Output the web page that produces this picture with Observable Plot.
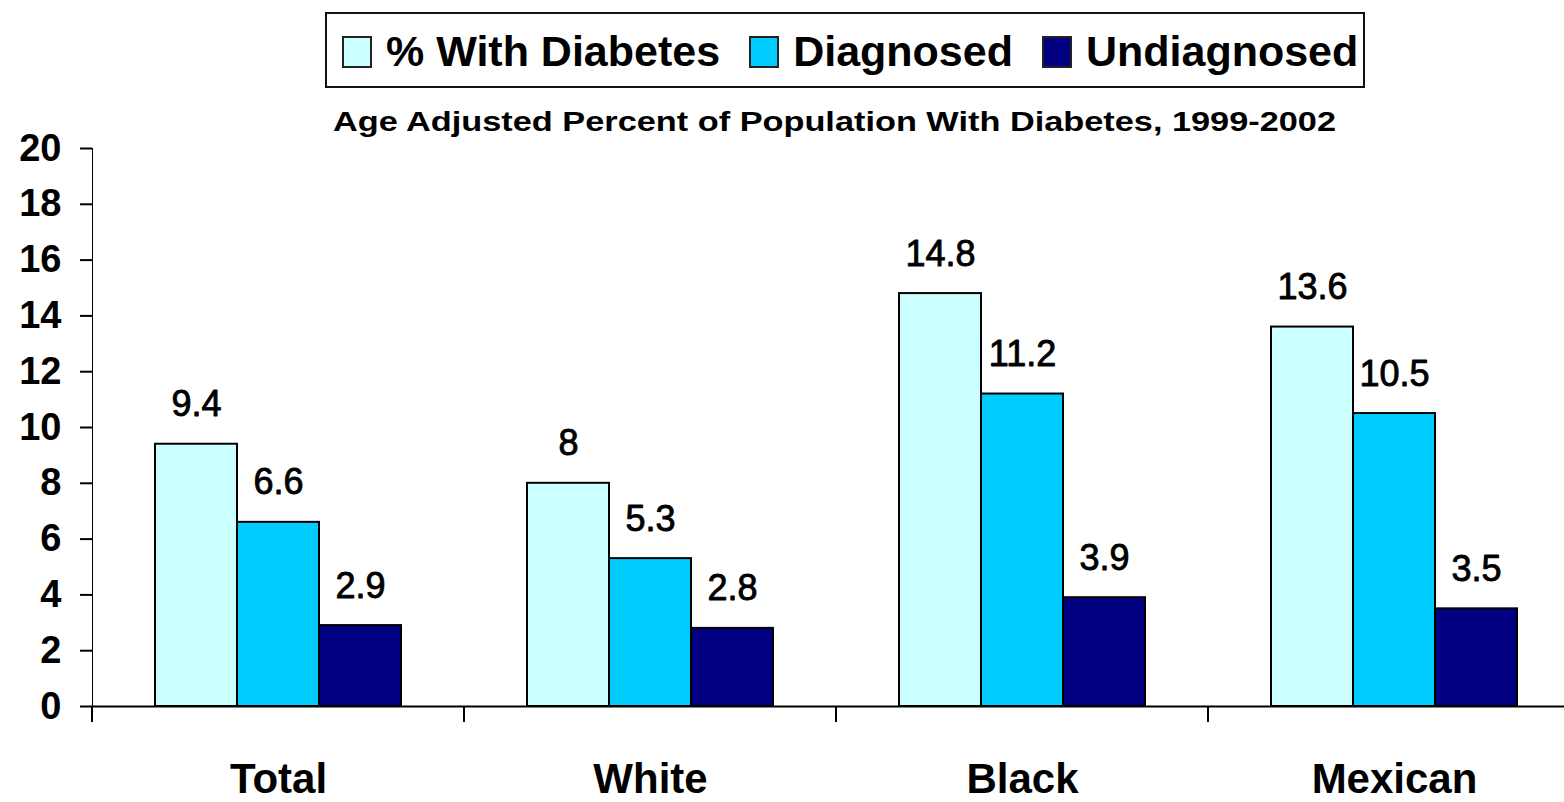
<!DOCTYPE html>
<html>
<head>
<meta charset="utf-8">
<script src="https://cdn.jsdelivr.net/npm/d3@7"></script>
<script src="https://cdn.jsdelivr.net/npm/@observablehq/plot@0.6"></script>
<style>
  html, body { margin: 0; padding: 0; background: #fff; overflow: hidden; }
  #wrap { position: relative; width: 1564px; height: 802px; overflow: hidden; background: #fff; }
  #chart { position: absolute; left: 0; top: 0; width: 1580px; }
  #chart svg { max-width: none !important; width: 1580px !important; height: 802px !important; }
  #legend {
    position: absolute; left: 325px; top: 12px; width: 1040px; height: 76px;
    box-sizing: border-box; border: 2px solid #111; background: #fff;
    display: flex; align-items: center; padding-left: 15px; padding-top: 3px;
    font-family: "Liberation Sans", Arial, sans-serif; font-weight: bold; font-size: 43px;
    line-height: 1; color: #000; white-space: nowrap;
  }
  #legend .item { display: flex; align-items: center; flex-shrink: 0; margin-right: 29px; }
  #legend .swatch { width: 30px; height: 32px; box-sizing: border-box; border: 2px solid #222; margin-right: 14px; flex-shrink: 0; }
  #subtitle {
    position: absolute; left: 333px; top: 109px; white-space: nowrap;
    font-family: "Liberation Sans", Arial, sans-serif; font-weight: bold; font-size: 27px; line-height: 1;
    color: #000; transform-origin: 0 0;
  }
  g[aria-label^="y-axis"] line, g[aria-label^="y-axis"] path { stroke-width: 2px; }
</style>
</head>
<body>
<div id="wrap">
  <div id="chart"></div>
  <div id="legend"></div>
  <div id="subtitle"></div>
</div>
<script>
// Age adjusted percent of population with diabetes, 1999-2002
const categories = ["Total", "White", "Black", "Mexican"];
const seriesNames = ["% With Diabetes", "Diagnosed", "Undiagnosed"];
const withDiabetes = [9.4, 8, 14.8, 13.6];
const diagnosed = [6.6, 5.3, 11.2, 10.5];
const undiagnosed = [2.9, 2.8, 3.9, 3.5];
const seriesColors = ["#CCFFFF", "#00CCFF", "#000080"];
const yTicks = [0, 2, 4, 6, 8, 10, 12, 14, 16, 18, 20];
const subtitleText = "Age Adjusted Percent of Population With Diabetes, 1999-2002";

// long-format rows for the grouped bars
const seriesValues = [withDiabetes, diagnosed, undiagnosed];
const rows = [];
categories.forEach((c, i) => {
  seriesNames.forEach((s, j) => rows.push({category: c, series: s, value: seriesValues[j][i]}));
});

const chart = Plot.plot({
  width: 1580,
  height: 802,
  marginTop: 148,
  marginBottom: 96,
  marginLeft: 92,
  marginRight: 0,
  style: {
    fontFamily: "'Liberation Sans', Arial, sans-serif",
    fontSize: "38px",
    fontWeight: "bold",
    color: "#000",
    background: "#fff",
    overflow: "visible",
    maxWidth: "none"
  },
  fx: {domain: categories, padding: 0, axis: null, label: null},
  x: {domain: seriesNames, paddingInner: 0, paddingOuter: 0.741, axis: null},
  y: {domain: [0, 20], ticks: yTicks, tickSize: 12, tickPadding: 19, line: true, label: null},
  color: {domain: seriesNames, range: seriesColors},
  marks: [
    Plot.barY(rows, {fx: "category", x: "series", y: "value", fill: "series", stroke: "#000", strokeWidth: 2}),
    Plot.ruleY([0], {stroke: "#000", strokeWidth: 2}),
    Plot.text(rows, {
      fx: "category", x: "series", y: "value", text: d => String(d.value),
      dy: -28, lineAnchor: "bottom", fontSize: 36, fontWeight: "normal",
      fill: "#000", stroke: "#000", strokeWidth: 0.9
    }),
    Plot.text(categories, {
      fx: d => d, text: d => d, frameAnchor: "bottom", dy: 57, lineAnchor: "top",
      fontSize: 42, fontWeight: "bold", fill: "#000"
    })
  ]
});
document.getElementById("chart").appendChild(chart);

// tick marks below the baseline at each category boundary
const fxScale = chart.scale("fx");
const yScale = chart.scale("y");
const y0 = yScale.apply ? yScale.apply(0) : yScale.range[0];
const n = fxScale.domain.length;
const step = fxScale.step || fxScale.bandwidth;
const start = fxScale.apply ? fxScale.apply(fxScale.domain[0]) : fxScale.range[0];
const edges = d3.range(n + 1).map(i => start + i * step);
d3.select(chart).append("g")
  .attr("stroke", "#000").attr("stroke-width", 2)
  .selectAll("line").data(edges).join("line")
  .attr("x1", d => d).attr("x2", d => d)
  .attr("y1", y0).attr("y2", y0 + 16);

// legend
const legend = d3.select("#legend");
seriesNames.forEach((s, j) => {
  const item = legend.append("div").attr("class", "item");
  item.append("div").attr("class", "swatch").style("background", seriesColors[j]);
  item.append("span").text(s);
});

// subtitle, stretched to span the plot
const sub = document.getElementById("subtitle");
sub.textContent = subtitleText;
const natural = sub.getBoundingClientRect().width;
sub.style.transform = `scaleX(${1003 / natural})`;
</script>
</body>
</html>
